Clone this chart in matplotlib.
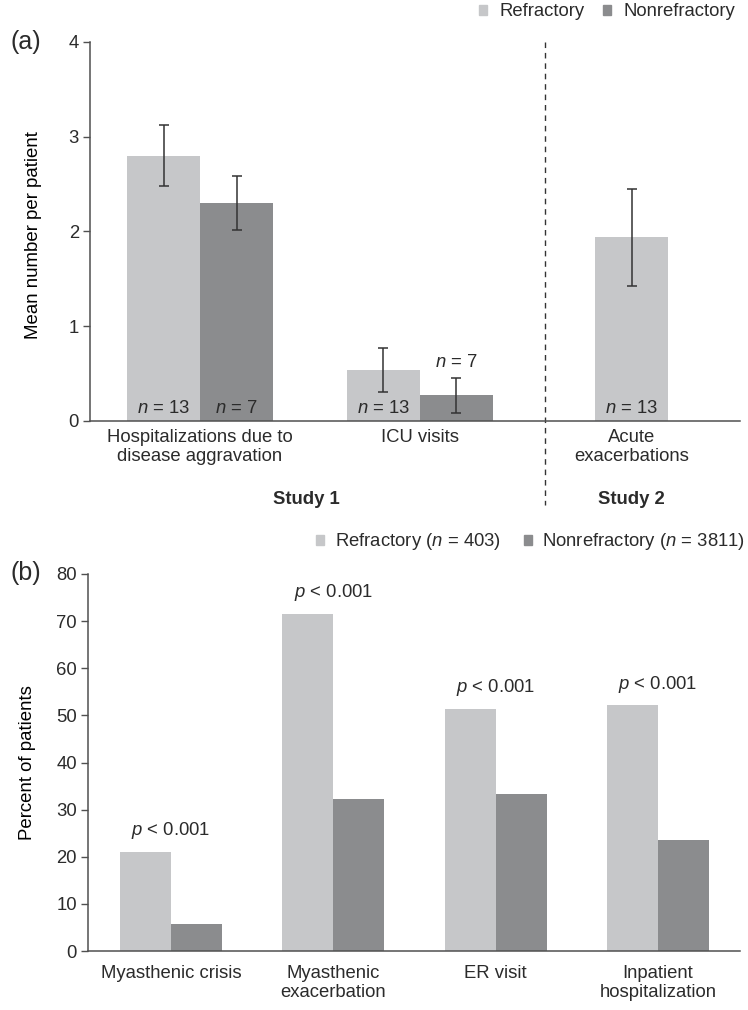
import matplotlib
matplotlib.use("Agg")
import matplotlib.pyplot as plt
from matplotlib.patches import Patch

plt.rcParams["font.family"] = ["Liberation Sans", "DejaVu Sans"]
plt.rcParams["mathtext.fontset"] = "custom"
plt.rcParams["mathtext.it"] = "Liberation Sans:italic"
plt.rcParams["mathtext.rm"] = "Liberation Sans"
plt.rcParams["text.color"] = "#2b2b2b"
plt.rcParams["axes.edgecolor"] = "#505050"
plt.rcParams["xtick.color"] = "#505050"
plt.rcParams["ytick.color"] = "#505050"
plt.rcParams["xtick.labelcolor"] = "#2b2b2b"
plt.rcParams["ytick.labelcolor"] = "#2b2b2b"

LIGHT = "#c6c7c9"
DARK = "#8b8c8e"

# ---- panel (a) data ----
a_categories = ["Hospitalizations due to\ndisease aggravation", "ICU visits", "Acute\nexacerbations"]
a_ref_mean = [2.80, 0.54, 1.94]
a_ref_err = [0.325, 0.233, 0.51]
a_ref_n = ["13", "13", "13"]
a_nonref_mean = [2.30, 0.27]
a_nonref_err = [0.288, 0.183]
a_nonref_n = ["7", "7"]

# ---- panel (b) data ----
b_categories = ["Myasthenic crisis", "Myasthenic\nexacerbation", "ER visit", "Inpatient\nhospitalization"]
b_refractory = [21.1, 71.5, 51.4, 52.1]
b_nonrefractory = [5.8, 32.3, 33.4, 23.5]
b_pvalues = ["< 0.001", "< 0.001", "< 0.001", "< 0.001"]

fig = plt.figure(figsize=(7.48, 10.10), dpi=100)

# ================= panel (a) =================
ax = fig.add_axes([90 / 748, 1 - 421 / 1010, 650 / 748, 379 / 1010])
pos = [1.507, 4.52, 7.42]   # group centres (bar width = 1)
w = 1.0
ref_x = [pos[0] - w / 2, pos[1] - w / 2, pos[2]]
non_x = [pos[0] + w / 2, pos[1] + w / 2]
ax.bar(ref_x, a_ref_mean, w, color=LIGHT, yerr=a_ref_err,
       error_kw=dict(ecolor="#333333", elinewidth=1.1, capsize=3.5, capthick=1.1))
ax.bar(non_x, a_nonref_mean, w, color=DARK, yerr=a_nonref_err,
       error_kw=dict(ecolor="#333333", elinewidth=1.1, capsize=3.5, capthick=1.1))

for x, n in zip(ref_x, a_ref_n):
    ax.text(x, 0.13, "$n$ = " + n, ha="center", va="center", fontsize=13.3)
ax.text(non_x[0], 0.13, "$n$ = " + a_nonref_n[0], ha="center", va="center", fontsize=13.3)
ax.text(non_x[1], a_nonref_mean[1] + a_nonref_err[1] + 0.16, "$n$ = " + a_nonref_n[1],
        ha="center", va="center", fontsize=13.3)

ax.set_xlim(0, 8.904)
ax.set_ylim(0, 4)
ax.set_yticks([0, 1, 2, 3, 4])
ax.set_xticks(pos)
ax.set_xticklabels(a_categories, fontsize=13.3, linespacing=1.15)
ax.tick_params(axis="x", length=0, pad=6)
ax.tick_params(axis="y", length=5, width=1, pad=3, labelsize=13.3)
for s in ["top", "right"]:
    ax.spines[s].set_visible(False)
ax.spines["left"].set_linewidth(1.1)
ax.spines["bottom"].set_linewidth(1.1)
ax.set_ylabel("Mean number per patient", fontsize=13.4)
ax.yaxis.set_label_coords(-0.074, 0.49)

# dashed separator between studies
ax.plot([6.23, 6.23], [1.0, -0.222], transform=ax.get_xaxis_transform(),
        color="#333333", lw=1.0, linestyle=(0, (4, 3.5)), clip_on=False)
ax.text(2.97, -0.208, "Study 1", transform=ax.get_xaxis_transform(),
        ha="center", va="center", fontsize=13.3, fontweight="bold")
ax.text(7.42, -0.208, "Study 2", transform=ax.get_xaxis_transform(),
        ha="center", va="center", fontsize=13.3, fontweight="bold")

fig.text(10 / 748, 1 - 42 / 1010, "(a)", fontsize=18, va="center", ha="left")
fig.legend(handles=[Patch(color=LIGHT, label="Refractory"), Patch(color=DARK, label="Nonrefractory")],
           loc="center right", bbox_to_anchor=(735 / 748, 1 - 12 / 1010), ncol=2, frameon=False,
           fontsize=13.3, handlelength=0.45, handleheight=0.45, handletextpad=0.65,
           columnspacing=1.0, borderpad=0, borderaxespad=0)

# ================= panel (b) =================
bx = fig.add_axes([88 / 748, 1 - 951 / 1010, 652 / 748, 377 / 1010])
gx = list(range(len(b_categories)))
bw = 0.314
bx.bar([g - bw / 2 for g in gx], b_refractory, bw, color=LIGHT)
bx.bar([g + bw / 2 for g in gx], b_nonrefractory, bw, color=DARK)
for g, r, p in zip(gx, b_refractory, b_pvalues):
    bx.text(g, r + 4.5, "$p$ " + p, ha="center", va="center", fontsize=13.3)

bx.set_xlim(-0.511, 3.505)
bx.set_ylim(0, 80)
bx.set_yticks(range(0, 81, 10))
bx.set_xticks(gx)
bx.set_xticklabels(b_categories, fontsize=13.3, linespacing=1.15)
bx.tick_params(axis="x", length=0, pad=10)
bx.tick_params(axis="y", length=5, width=1, pad=3, labelsize=13.3)
for s in ["top", "right"]:
    bx.spines[s].set_visible(False)
bx.spines["left"].set_linewidth(1.1)
bx.spines["bottom"].set_linewidth(1.1)
bx.set_ylabel("Percent of patients", fontsize=13.4)
bx.yaxis.set_label_coords(-0.08, 0.5)

fig.text(10 / 748, 1 - 573 / 1010, "(b)", fontsize=18, va="center", ha="left")
fig.legend(handles=[Patch(color=LIGHT, label="Refractory ($n$ = 403)"),
                    Patch(color=DARK, label="Nonrefractory ($n$ = 3811)")],
           loc="center right", bbox_to_anchor=(745 / 748, 1 - 542 / 1010), ncol=2, frameon=False,
           fontsize=13.3, handlelength=0.45, handleheight=0.45, handletextpad=0.55,
           columnspacing=1.25, borderpad=0, borderaxespad=0)

fig.savefig("out.png", dpi=100)
